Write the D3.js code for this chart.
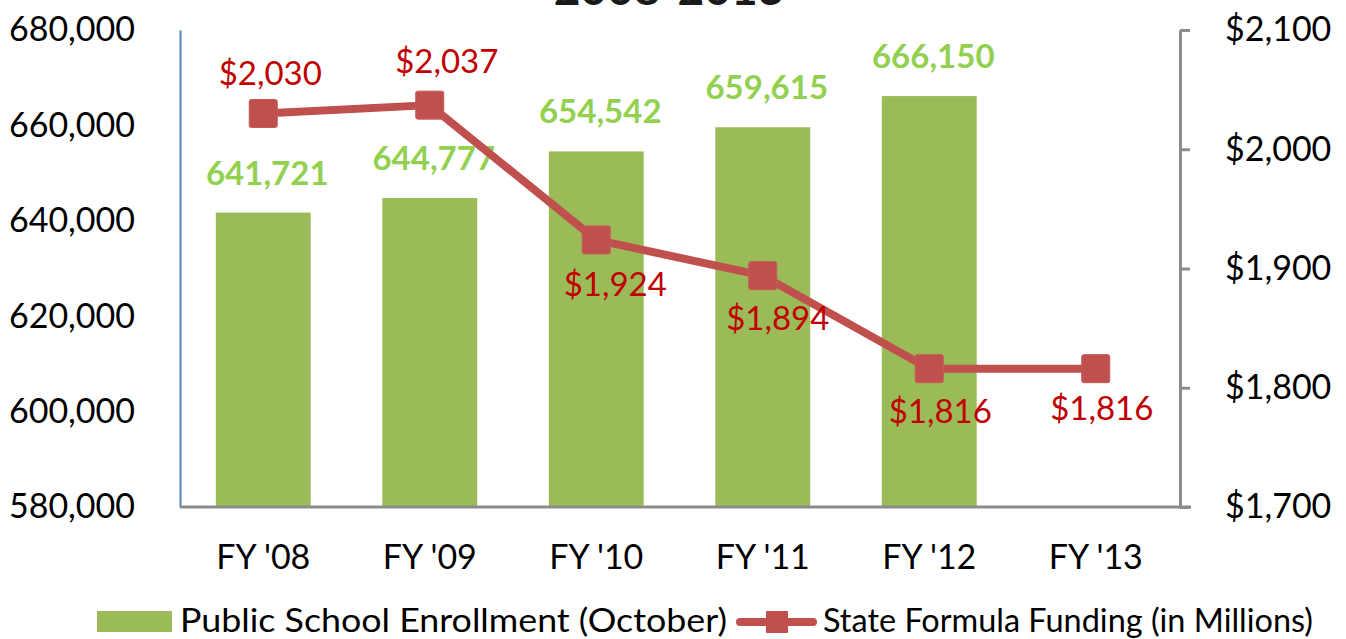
<!DOCTYPE html>
<html>
<head>
<meta charset="utf-8">
<script src="https://cdn.jsdelivr.net/npm/d3@7"></script>
<style>
  body { margin: 0; background: #fff; }
  svg { display: block; }
  svg text { font-family: Lato, "Open Sans", sans-serif; }
</style>
</head>
<body>
<div id="chart"></div>
<script>
// chart data
const years = ["FY '08", "FY '09", "FY '10", "FY '11", "FY '12", "FY '13"];
const enrollment = [641721, 644777, 654542, 659615, 666150, null];
const funding = [2030, 2037, 1924, 1894, 1816, 1816];
const leftTicks = [580000, 600000, 620000, 640000, 660000, 680000];
const rightTicks = [1700, 1800, 1900, 2000, 2100];

// label nudges for the funding values (above first two, below the rest)
const fundLabelNudge = [[7, -28], [17, -32], [19, 56], [15, 54], [11, 54], [6, 51]];

const width = 1346;
const height = 639;

const svg = d3.select("#chart")
    .append("svg")
    .attr("width", width)
    .attr("height", height);

// scales
var xScale = d3.scaleBand().domain(years).range([180, 1179])
    .paddingInner(0.43).paddingOuter(0.215);
var yLeft = d3.scaleLinear().domain([580000, 680000]).range([507, 30]);
var yRight = d3.scaleLinear().domain([1700, 2100]).range([507, 30]);

// title (mostly cut off at the top, as in the original)
svg.append("text")
    .attr("x", 669)
    .attr("y", 5)
    .attr("text-anchor", "middle")
    .style("font-size", "46px")
    .style("font-weight", "bold")
    .attr("fill", "#1a1a1a")
    .text("2008-2013");

// bars
var barData = years.map((y, i) => ({year: y, val: enrollment[i]})).filter(d => d.val != null);

svg.selectAll("rect.bar")
    .data(barData)
    .enter()
    .append("rect")
    .attr("class", "bar")
    .attr("x", d => xScale(d.year))
    .attr("y", d => yLeft(d.val))
    .attr("width", xScale.bandwidth())
    .attr("height", d => yLeft(580000) - yLeft(d.val))
    .attr("fill", "#9BBB59");

// left axis
var leftAxis = svg.append("g")
    .attr("transform", "translate(180,0)")
    .call(d3.axisLeft(yLeft).tickValues(leftTicks).tickSize(0).tickPadding(45)
        .tickFormat(d3.format(",")));
leftAxis.attr("font-family", null).attr("font-size", null);
leftAxis.select(".domain").attr("stroke", "#4F81BD").attr("stroke-width", 2);
leftAxis.selectAll("text").style("font-size", "34px").attr("fill", "#000");

// right axis
var rightAxis = svg.append("g")
    .attr("transform", "translate(1180,0)")
    .call(d3.axisRight(yRight).tickValues(rightTicks).tickSizeOuter(0).tickSizeInner(10).tickPadding(35)
        .tickFormat(d => "$" + d3.format(",")(d)));
rightAxis.attr("font-family", null).attr("font-size", null);
rightAxis.select(".domain").attr("stroke", "#8c8c8c").attr("stroke-width", 3);
rightAxis.selectAll("line").attr("stroke", "#8c8c8c").attr("stroke-width", 3);
rightAxis.selectAll("text").style("font-size", "34px").attr("fill", "#000");

// bottom axis
var bottomAxis = svg.append("g")
    .attr("transform", "translate(0,507)")
    .call(d3.axisBottom(xScale).tickSize(0).tickPadding(38));
bottomAxis.attr("font-family", null).attr("font-size", null);
bottomAxis.select(".domain").attr("stroke", "#8c8c8c").attr("stroke-width", 3)
    .attr("d", "M180,0H1191");
bottomAxis.selectAll("text").style("font-size", "34px").attr("fill", "#000");

// enrollment labels
svg.selectAll("text.enr")
    .data(barData)
    .enter()
    .append("text")
    .attr("class", "enr")
    .attr("x", d => xScale(d.year) + xScale.bandwidth() / 2 + 4)
    .attr("y", d => yLeft(d.val) - 28)
    .attr("text-anchor", "middle")
    .style("font-size", "33px")
    .style("font-weight", "bold")
    .attr("fill", "#92D050")
    .text(d => d3.format(",")(d.val));

// funding line
var cx = d => xScale(d.year) + xScale.bandwidth() / 2;
var fundData = years.map((y, i) => ({year: y, val: funding[i], i: i}));

svg.append("path")
    .datum(fundData)
    .attr("fill", "none")
    .attr("stroke", "#C0504D")
    .attr("stroke-width", 8)
    .attr("stroke-linejoin", "round")
    .attr("d", d3.line().x(cx).y(d => yRight(d.val)));

svg.selectAll("rect.marker")
    .data(fundData)
    .enter()
    .append("rect")
    .attr("class", "marker")
    .attr("x", d => cx(d) - 14)
    .attr("y", d => yRight(d.val) - 14)
    .attr("width", 28)
    .attr("height", 28)
    .attr("rx", 2)
    .attr("fill", "#C0504D")
    .attr("stroke", "#c55a57")
    .attr("stroke-width", 1);

svg.selectAll("text.fund")
    .data(fundData)
    .enter()
    .append("text")
    .attr("class", "fund")
    .attr("x", d => cx(d) + fundLabelNudge[d.i][0])
    .attr("y", d => yRight(d.val) + fundLabelNudge[d.i][1])
    .attr("text-anchor", "middle")
    .style("font-size", "33px")
    .attr("fill", "#C00000")
    .text(d => "$" + d3.format(",")(d.val));

// legend
var legend = svg.append("g");
legend.append("rect")
    .attr("x", 97).attr("y", 611).attr("width", 75).attr("height", 21)
    .attr("fill", "#9BBB59");
legend.append("text")
    .attr("x", 180).attr("y", 632)
    .style("font-size", "33px")
    .attr("textLength", 547)
    .attr("lengthAdjust", "spacingAndGlyphs")
    .attr("fill", "#000")
    .text("Public School Enrollment (October)");
legend.append("line")
    .attr("x1", 740).attr("x2", 813).attr("y1", 622).attr("y2", 622)
    .attr("stroke", "#C0504D").attr("stroke-width", 8).attr("stroke-linecap", "round");
legend.append("rect")
    .attr("x", 766).attr("y", 611).attr("width", 22).attr("height", 22)
    .attr("rx", 1)
    .attr("fill", "#C0504D");
legend.append("text")
    .attr("x", 823).attr("y", 632)
    .style("font-size", "33px")
    .attr("textLength", 490)
    .attr("lengthAdjust", "spacingAndGlyphs")
    .attr("fill", "#000")
    .text("State Formula Funding (in Millions)");
</script>
</body>
</html>
